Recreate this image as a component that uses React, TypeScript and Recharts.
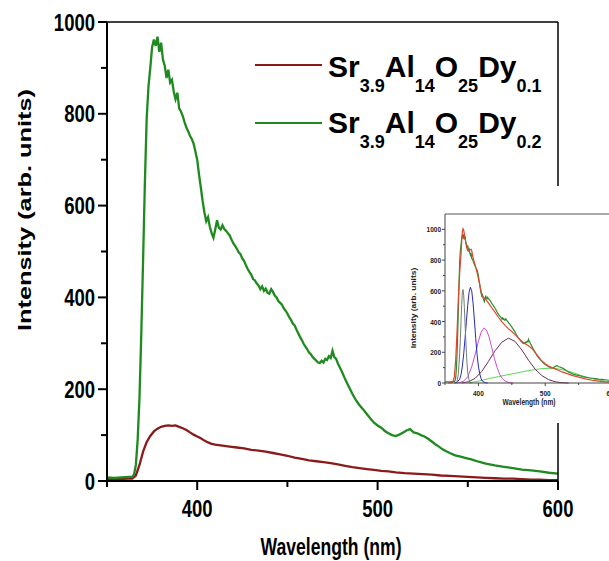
import React from 'react';
import { LineChart, Line, XAxis, YAxis } from 'recharts';

// [wavelength nm, intensity]
const greenSpectrum: [number, number][] = [
  [350, 8], [354, 7], [358, 8], [362, 9], [364, 9], [365, 14], [366, 35], [367, 90], [368, 180], [369, 320],
  [370, 480], [371, 650], [372, 790], [373, 860], [374, 900], [375, 945], [376, 962], [377, 948], [378, 968], [379, 935],
  [380, 955], [381, 918], [382, 905], [383, 878], [384, 896], [385, 868], [386, 874], [387, 848], [388, 832], [389, 846],
  [390, 812], [391, 805], [392, 795], [393, 782], [394, 770], [395, 762], [396, 752], [397, 745], [398, 735], [399, 718],
  [400, 700], [401, 668], [402, 640], [403, 610], [404, 585], [405, 566], [406, 575], [407, 554], [408, 540], [409, 530],
  [410, 548], [411, 568], [412, 552], [413, 548], [414, 557], [415, 549], [416, 545], [417, 540], [418, 535], [419, 526],
  [420, 518], [421, 512], [422, 506], [423, 498], [424, 494], [425, 485], [426, 479], [427, 470], [428, 462], [429, 455],
  [430, 449], [431, 440], [432, 437], [433, 430], [434, 426], [435, 418], [436, 424], [437, 414], [438, 419], [439, 410],
  [440, 408], [441, 418], [442, 412], [443, 404], [444, 400], [445, 392], [446, 388], [447, 384], [448, 376], [449, 371],
  [450, 365], [451, 357], [452, 351], [453, 343], [454, 339], [455, 330], [456, 322], [457, 314], [458, 307], [459, 299],
  [460, 293], [461, 287], [462, 280], [463, 276], [464, 270], [465, 266], [466, 262], [467, 258], [468, 257], [469, 262],
  [470, 258], [471, 266], [472, 264], [473, 272], [474, 268], [475, 284], [476, 270], [477, 266], [478, 256], [479, 248],
  [480, 240], [482, 222], [484, 206], [486, 190], [488, 176], [490, 165], [492, 156], [494, 146], [496, 136],
  [498, 127], [500, 121], [502, 116], [504, 109], [506, 104], [508, 100], [510, 98], [512, 101], [514, 105], [516, 110],
  [518, 113], [520, 106], [522, 104], [524, 100], [526, 97], [528, 92], [530, 86], [532, 80], [534, 75], [536, 69],
  [538, 65], [540, 61], [543, 56], [546, 53], [549, 50], [552, 47], [556, 42], [560, 38], [565, 34], [570, 31],
  [575, 28], [580, 25], [585, 23], [590, 21], [595, 18], [600, 16],
];

const redSpectrum: [number, number][] = [
  [350, 4], [356, 4], [362, 5], [364, 5], [366, 12], [368, 35], [370, 64], [372, 85], [374, 98], [376, 108],
  [378, 114], [380, 118], [382, 120], [384, 121], [386, 120], [388, 121], [390, 118], [392, 115], [394, 111], [396, 106],
  [398, 101], [400, 97], [402, 93], [404, 88], [406, 84], [408, 81], [410, 79], [414, 77], [418, 75], [422, 73],
  [426, 71], [430, 68], [434, 66], [438, 64], [442, 61], [446, 58], [450, 55], [454, 51], [458, 48], [462, 45],
  [466, 43], [470, 41], [474, 39], [478, 36], [482, 33], [486, 30], [490, 28], [494, 26], [498, 24], [502, 22],
  [506, 21], [510, 19], [515, 17], [520, 16], [525, 15], [530, 14], [535, 12], [540, 11], [545, 10], [550, 9],
  [555, 8], [560, 7], [565, 6], [570, 5], [575, 5], [580, 4], [585, 3], [590, 3], [595, 2], [600, 2],
];

// inset: fitted envelope and gaussian components
const fitCurve: [number, number][] = [
  [355, 0], [360, 2], [362, 8], [364, 40], [366, 150], [368, 330], [370, 550], [372, 720], [374, 840], [375, 920],
  [376, 985], [377, 1005], [378, 995], [380, 945], [382, 890], [384, 862], [385, 858], [387, 866], [389, 870], [390, 862],
  [392, 815], [395, 770], [397.5, 728], [400, 680], [402, 640], [405, 578], [408, 555], [412, 540], [416, 515], [420, 490],
  [425, 460], [430, 428], [435, 400], [440, 375], [445, 352], [450, 335], [455, 315], [460, 292], [465, 272], [470, 255],
  [475, 243], [480, 225], [485, 200], [490, 170], [495, 143], [500, 125], [505, 110], [510, 100], [515, 92], [520, 83],
  [525, 72], [530, 66], [540, 50], [550, 38], [560, 27], [570, 18], [580, 12], [590, 7], [600, 4],
];
const grayBand: [number, number][] = [
  [366, 0], [368, 10], [370, 60], [372, 190], [373, 290], [374, 400], [375, 510], [376, 590], [377, 608], [378, 570],
  [379, 490], [380, 390], [381, 290], [382, 200], [383, 125], [384, 70], [386, 18], [388, 3], [390, 0],
];
const blueBand: [number, number][] = [
  [364, 0], [368, 5], [372, 25], [374, 55], [376, 110], [378, 190], [380, 290], [382, 400], [384, 505], [386, 590],
  [388, 623], [390, 600], [392, 520], [394, 410], [396, 290], [398, 185], [400, 110], [402, 60], [404, 28], [406, 12],
  [410, 2], [414, 0],
];
const magentaBand: [number, number][] = [
  [365, 0], [372, 3], [378, 12], [384, 40], [390, 105], [396, 200], [400, 270], [404, 330], [408, 357], [412, 345],
  [416, 300], [420, 230], [424, 160], [428, 100], [432, 55], [436, 28], [440, 12], [446, 3], [452, 0],
];
const purpleBand: [number, number][] = [
  [375, 0], [385, 8], [395, 30], [405, 75], [415, 140], [425, 210], [435, 265], [445, 292], [455, 270], [465, 215],
  [475, 148], [485, 90], [495, 48], [505, 22], [515, 8], [525, 2], [535, 0],
];
const limeBand: [number, number][] = [
  [385, 0], [400, 12], [417, 30], [430, 42], [442, 52], [455, 63], [467, 74], [480, 84], [492, 92], [505, 96],
  [515, 95], [527, 85], [540, 70], [552, 52], [562, 38], [572, 26], [585, 15], [600, 8],
];

const mainXTicks = [350, 400, 450, 500, 550, 600];
const mainYTicks = [0, 100, 200, 300, 400, 500, 600, 700, 800, 900, 1000];
const insetXTicks = [350, 400, 450, 500, 550, 600];
const insetYTicks = [0, 100, 200, 300, 400, 500, 600, 700, 800, 900, 1000];

const toPoints = (pairs: [number, number][]) => pairs.map(([nm, v]) => ({ nm, v }));

const FONT = '"Liberation Sans", Arial, sans-serif';

function MainYTick(props: any) {
  const { x, y, payload } = props;
  const major = payload.value % 200 === 0;
  return (
    <g>
      <line x1={x} y1={y} x2={x - (major ? 9 : 6)} y2={y} stroke="#000" strokeWidth={2} />
      {major && (
        <text transform={`translate(${x - 12},${y + 8.5}) scale(1,1.28)`} textAnchor="end"
          fontSize={18.5} fontWeight="bold" fontFamily={FONT} fill="#000">{payload.value}</text>
      )}
    </g>
  );
}

function MainXTick(props: any) {
  const { x, y, payload } = props;
  const major = payload.value % 100 === 0 && payload.value !== 350;
  return (
    <g>
      <line x1={x} y1={y} x2={x} y2={y + (major ? 9 : 6)} stroke="#000" strokeWidth={2} />
      {major && (
        <text transform={`translate(${x},${y + 35.5}) scale(1,1.28)`} textAnchor="middle"
          fontSize={18.5} fontWeight="bold" fontFamily={FONT} fill="#000">{payload.value}</text>
      )}
    </g>
  );
}

function InsetYTick(props: any) {
  const { x, y, payload } = props;
  const major = payload.value % 200 === 0;
  return (
    <g>
      <line x1={x} y1={y} x2={x - (major ? 3 : 2)} y2={y} stroke="#444" strokeWidth={1} />
      {major && (
        <text transform={`translate(${x - 4},${y + 3}) scale(1,1.25)`} textAnchor="end"
          fontSize={6.5} fontWeight="bold" fontFamily={FONT} fill="#222">{payload.value}</text>
      )}
    </g>
  );
}

function InsetXTick(props: any) {
  const { x, y, payload } = props;
  const major = payload.value % 100 === 0 && payload.value !== 350;
  return (
    <g>
      <line x1={x} y1={y} x2={x} y2={y + (major ? 3 : 2)} stroke="#444" strokeWidth={1} />
      {major && (
        <text transform={`translate(${x},${y + 13}) scale(1,1.25)`} textAnchor="middle"
          fontSize={6.5} fontWeight="bold" fontFamily={FONT} fill="#222">{payload.value}</text>
      )}
    </g>
  );
}

function Formula({ x, y, last }: { x: number; y: number; last: string }) {
  const sub = 15;
  return (
    <text x={x} y={y} fontSize={30} fontWeight="bold" fontFamily={FONT} fill="#000">
      <tspan>Sr</tspan>
      <tspan fontSize={18} dy={sub}>3.9</tspan>
      <tspan dy={-sub}>Al</tspan>
      <tspan fontSize={18} dy={sub}>14</tspan>
      <tspan dy={-sub}>O</tspan>
      <tspan fontSize={18} dy={sub}>25</tspan>
      <tspan dy={-sub}>Dy</tspan>
      <tspan fontSize={18} dy={sub}>{last}</tspan>
    </text>
  );
}

export default function App() {
  return (
    <div style={{ position: 'absolute', left: 0, top: 0, width: 609, height: 561, overflow: 'hidden', background: '#fff' }}>
      <LineChart width={609} height={561} margin={{ top: 21, right: 50, bottom: 20, left: 0 }}>
        <XAxis dataKey="nm" type="number" domain={[350, 600]} ticks={mainXTicks} height={60}
          axisLine={{ stroke: '#000', strokeWidth: 2 }} tickLine={false} tickSize={0} tickMargin={0}
          tick={<MainXTick />} interval={0} allowDataOverflow />
        <XAxis xAxisId="top" orientation="top" type="number" domain={[350, 600]} height={1}
          axisLine={{ stroke: '#000', strokeWidth: 1.5 }} tick={false} tickLine={false} />
        <YAxis type="number" domain={[0, 1000]} ticks={mainYTicks} width={107}
          axisLine={{ stroke: '#000', strokeWidth: 2 }} tickLine={false} tickSize={0} tickMargin={0}
          tick={<MainYTick />} interval={0} allowDataOverflow />
        <YAxis yAxisId="right" orientation="right" type="number" domain={[0, 1000]} width={1}
          axisLine={{ stroke: '#000', strokeWidth: 1.5 }} tick={false} tickLine={false} />
        <Line data={toPoints(redSpectrum)} dataKey="v" stroke="#8b1a1a" strokeWidth={2.3} dot={false}
          isAnimationActive={false} />
        <Line data={toPoints(greenSpectrum)} dataKey="v" stroke="#1f8a1f" strokeWidth={2.3} dot={false}
          isAnimationActive={false} />
      </LineChart>

      <div style={{ position: 'absolute', left: 400, top: 186, width: 215, height: 237, background: '#fff' }}>
        <LineChart width={215} height={237} margin={{ top: 27, right: 3, bottom: 10, left: 0 }}>
          <XAxis dataKey="nm" type="number" domain={[350, 600]} ticks={insetXTicks} height={30}
            axisLine={{ stroke: '#444', strokeWidth: 1 }} tickLine={false} tickSize={0} tickMargin={0}
            tick={<InsetXTick />} interval={0} />
          <XAxis xAxisId="top" orientation="top" type="number" domain={[350, 600]} height={1}
            axisLine={{ stroke: '#555', strokeWidth: 1 }} tick={false} tickLine={false} />
          <YAxis type="number" domain={[0, 1100]} ticks={insetYTicks} width={45}
            axisLine={{ stroke: '#444', strokeWidth: 1 }} tickLine={false} tickSize={0} tickMargin={0}
            tick={<InsetYTick />} interval={0} />
          <Line data={toPoints(limeBand)} dataKey="v" stroke="#5cd65c" strokeWidth={1} dot={false} isAnimationActive={false} />
          <Line data={toPoints(purpleBand)} dataKey="v" stroke="#6b2f4f" strokeWidth={1} dot={false} isAnimationActive={false} />
          <Line data={toPoints(magentaBand)} dataKey="v" stroke="#d04ad0" strokeWidth={1} dot={false} isAnimationActive={false} />
          <Line data={toPoints(blueBand)} dataKey="v" stroke="#2a2ab8" strokeWidth={1} dot={false} isAnimationActive={false} />
          <Line data={toPoints(grayBand)} dataKey="v" stroke="#6e7f6e" strokeWidth={1} dot={false} isAnimationActive={false} />
          <Line data={toPoints(greenSpectrum)} dataKey="v" stroke="#2e8b2e" strokeWidth={1.2} dot={false} isAnimationActive={false} />
          <Line data={toPoints(fitCurve)} dataKey="v" stroke="#e0462e" strokeWidth={1.2} dot={false} isAnimationActive={false} />
        </LineChart>
      </div>

      <svg width={609} height={561} style={{ position: 'absolute', left: 0, top: 0, pointerEvents: 'none' }}>
        <text transform="translate(31,210) rotate(-90) scale(1.37,1)" textAnchor="middle"
          fontSize={18.5} fontWeight="bold" fontFamily={FONT} fill="#000">Intensity (arb. units)</text>
        <text transform="translate(331,555) scale(1,1.32)" textAnchor="middle"
          fontSize={17.6} fontWeight="bold" fontFamily={FONT} fill="#000">Wavelength (nm)</text>

        <line x1={255} y1={65} x2={322} y2={65} stroke="#8b1a1a" strokeWidth={2} />
        <Formula x={328} y={77} last="0.1" />
        <line x1={255} y1={123} x2={322} y2={123} stroke="#1f8a1f" strokeWidth={2} />
        <Formula x={328} y={133} last="0.2" />

        <text transform="translate(416,308) rotate(-90) scale(1.3,1)" textAnchor="middle"
          fontSize={6.5} fontWeight="bold" fontFamily={FONT} fill="#222">Intensity (arb. units)</text>
        <text transform="translate(529,405) scale(1,1.25)" textAnchor="middle"
          fontSize={6.6} fontWeight="bold" fontFamily={FONT} fill="#222">Wavelength (nm)</text>
      </svg>
    </div>
  );
}
